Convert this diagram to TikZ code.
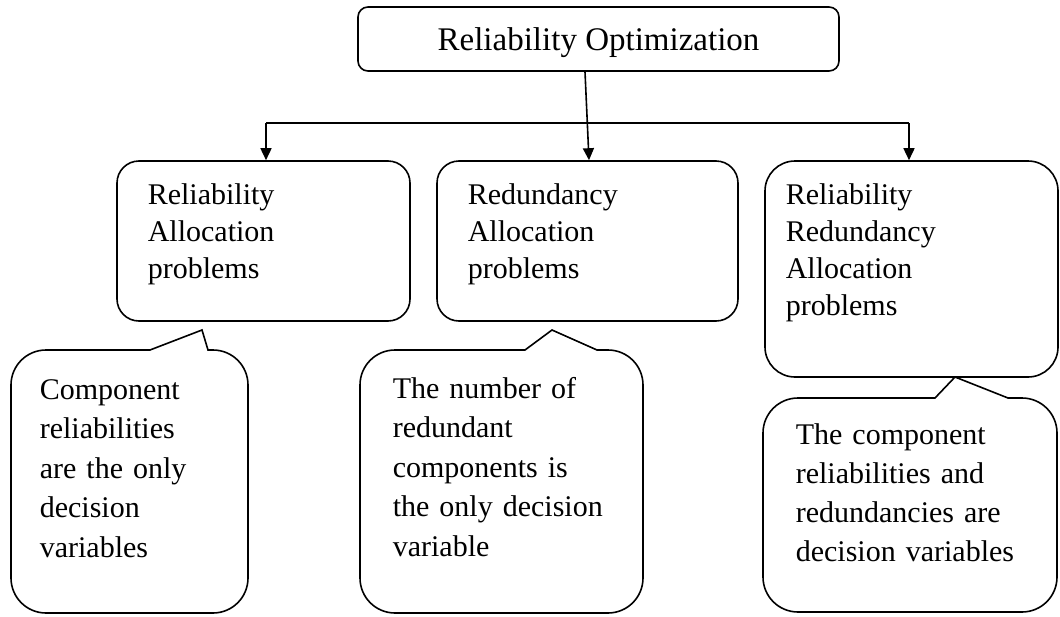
\documentclass[tikz,border=0pt]{standalone}
\usepackage{fontspec}
\setmainfont{Liberation Serif}
\usetikzlibrary{arrows.meta}
\begin{document}
\begin{tikzpicture}[x=1pt,y=-1pt,
  line width=1.6pt,
  titlebox/.style={draw, rounded corners=10pt, minimum width=481pt, minimum height=64pt,
    inner sep=0pt, text height=24pt, text depth=2pt, font=\fontsize{33}{40}\selectfont},
  probbox/.style={draw, rounded corners=22pt, inner sep=0pt},
  boxtext/.style={anchor=base west, inner sep=0pt, text width=250pt, align=left,
    font=\fontsize{30}{37}\selectfont},
  calltext/.style={anchor=base west, inner sep=0pt, text width=230pt, align=left,
    font=\fontsize{30}{39.5}\selectfont},
  arr/.style={-{Triangle[length=12pt,width=11pt]}}
]
\useasboundingbox (0,0) rectangle (1060,616);

% root
\node[titlebox] (root) at (598.5,39) {Reliability Optimization};

% problem classes
\node[probbox, minimum width=293pt, minimum height=160pt] (rap) at (263.5,241) {};
\node[probbox, minimum width=301pt, minimum height=160pt] (rdap) at (587.5,241) {};
\node[probbox, rounded corners=30pt, minimum width=293pt, minimum height=216pt] (rrap) at (911.5,269) {};

\node[boxtext] (raptext) at (147,204) {Reliability\\Allocation\\problems};
\node[boxtext] (rdaptext) at (467,204) {Redundancy\\Allocation\\problems};
\node[boxtext] (rraptext) at (785,204) {Reliability\\Redundancy\\Allocation\\problems};

% connectors
\coordinate (busL) at (266,123);
\coordinate (busR) at (909,123);
\draw (busL) -- (busR);
\draw[arr] (busL) -- (busL |- rap.north);
\draw[arr] (busR) -- (busR |- rrap.north);
\draw[arr] ([xshift=-13.5pt]root.south) -- ([xshift=1.5pt]rdap.north);

% callouts: rounded frame with a sharp pointer on the top edge
\draw (100,350) -- (150,350) -- (202,330) -- (208,350)
  [rounded corners=35pt] -- (248,350) -- (248,613) -- (11,613) -- (11,350) -- cycle;
\draw (450,350) -- (525,350) -- (552,330) -- (597,350)
  [rounded corners=35pt] -- (643,350) -- (643,613) -- (360,613) -- (360,350) -- cycle;
\draw (850,398) -- (935,398) -- (955,377) -- (1008,398)
  [rounded corners=35pt] -- (1057,398) -- (1057,612) -- (763,612) -- (763,398) -- cycle;

\node[calltext] (c1) at (39,399) {Component\\reliabilities\\\makebox[144pt][s]{are the only}\\decision\\variables};
\node[calltext] (c2) at (392,398) {\makebox[188pt][s]{The number of}\\redundant\\\makebox[178pt][s]{components is}\\\makebox[210pt][s]{the only decision}\\variable};
\node[calltext, font=\fontsize{30}{39}\selectfont] (c3) at (795,444) {\makebox[191pt][s]{The component}\\\makebox[193pt][s]{reliabilities and}\\\makebox[212pt][s]{redundancies are}\\\makebox[218pt][s]{decision variables}};
\end{tikzpicture}
\end{document}
